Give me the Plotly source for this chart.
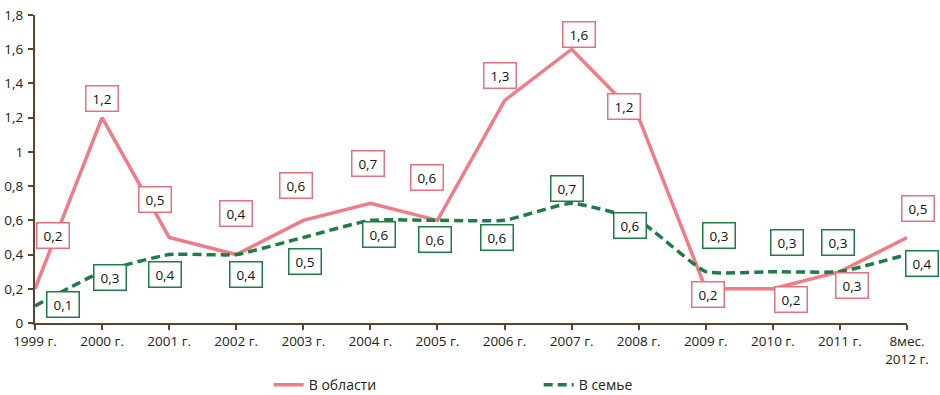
import plotly.graph_objects as go

categories = ["1999 г.", "2000 г.", "2001 г.", "2002 г.", "2003 г.", "2004 г.", "2005 г.",
              "2006 г.", "2007 г.", "2008 г.", "2009 г.", "2010 г.", "2011 г.", "8мес.<br>2012 г."]
oblast = [0.2, 1.2, 0.5, 0.4, 0.6, 0.7, 0.6, 1.3, 1.6, 1.2, 0.2, 0.2, 0.3, 0.5]
semye = [0.1, 0.3, 0.4, 0.4, 0.5, 0.6, 0.6, 0.6, 0.7, 0.6, 0.3, 0.3, 0.3, 0.4]

# label offsets in pixels (dx, dy screen-down)
oblast_off = [(18, -53), (0, -19), (-14, -38), (0, -41), (-7, -35), (-2, -40), (-10, -43),
              (-5, -25), (7, -15), (-15, -11), (2, 6), (18, 11), (12, 14), (11, -29)]
semye_off = [(28, -1), (8, 6), (-4, 20), (10, 20), (2, 24), (9, 14), (-2, 19),
             (-8, 17), (-5, -15), (-9, 5), (13, -36), (14, -29), (-2, -29), (15, 9)]

PINK = "#F07C87"
GREEN = "#1E7D45"
BROWN = "#5E4330"
FONT = "Open Sans"

fig = go.Figure()
fig.add_trace(go.Scatter(x=categories, y=oblast, mode="lines", name="В области",
                         line=dict(color=PINK, width=3.5)))
fig.add_trace(go.Scatter(x=categories, y=semye, mode="lines", name="В семье",
                         line=dict(color=GREEN, width=3.5, dash="9px,5px", shape="spline", smoothing=0.4)))

def fmt(v):
    return f"{v:.1f}".replace(".", ",")

for vals, offs, col in ((oblast, oblast_off, "#E8707E"), (semye, semye_off, GREEN)):
    for c, v, (dx, dy) in zip(categories, vals, offs):
        fig.add_annotation(x=c, y=v, text=fmt(v), showarrow=False, xshift=dx, yshift=-dy,
                           bgcolor="white", bordercolor=col, borderwidth=1.5, borderpad=4,
                           width=23, height=16, font=dict(family=FONT, size=13.5, color="#111"))

fig.update_layout(
    width=940, height=395, margin=dict(l=35, r=33, t=15, b=72),
    paper_bgcolor="white", plot_bgcolor="white",
    separators=", ",
    font=dict(family=FONT, size=13.5, color="#222"),
    showlegend=True,
    legend=dict(orientation="h", x=0.268, xanchor="left", yref="container", y=0.025, yanchor="middle",
                entrywidth=225, entrywidthmode="pixels", font=dict(size=14, color="#222"),
                bgcolor="rgba(0,0,0,0)"),
    xaxis=dict(type="category", range=[0, 13], showgrid=False, showline=True, linecolor=BROWN,
               linewidth=2, ticks="outside", ticklen=5, tickcolor=BROWN, tickwidth=1.5,
               zeroline=False, automargin=False),
    yaxis=dict(range=[0, 1.8], dtick=0.2, showgrid=False, showline=True, linecolor=BROWN,
               linewidth=2, ticks="outside", ticklen=5, tickcolor=BROWN, tickwidth=1.5,
               zeroline=False, ticklabelstandoff=2, automargin=False),
)

fig.write_html("out.html", config={"displayModeBar": False},
               post_script="document.body.style.margin='0';document.body.style.overflow='hidden';")
